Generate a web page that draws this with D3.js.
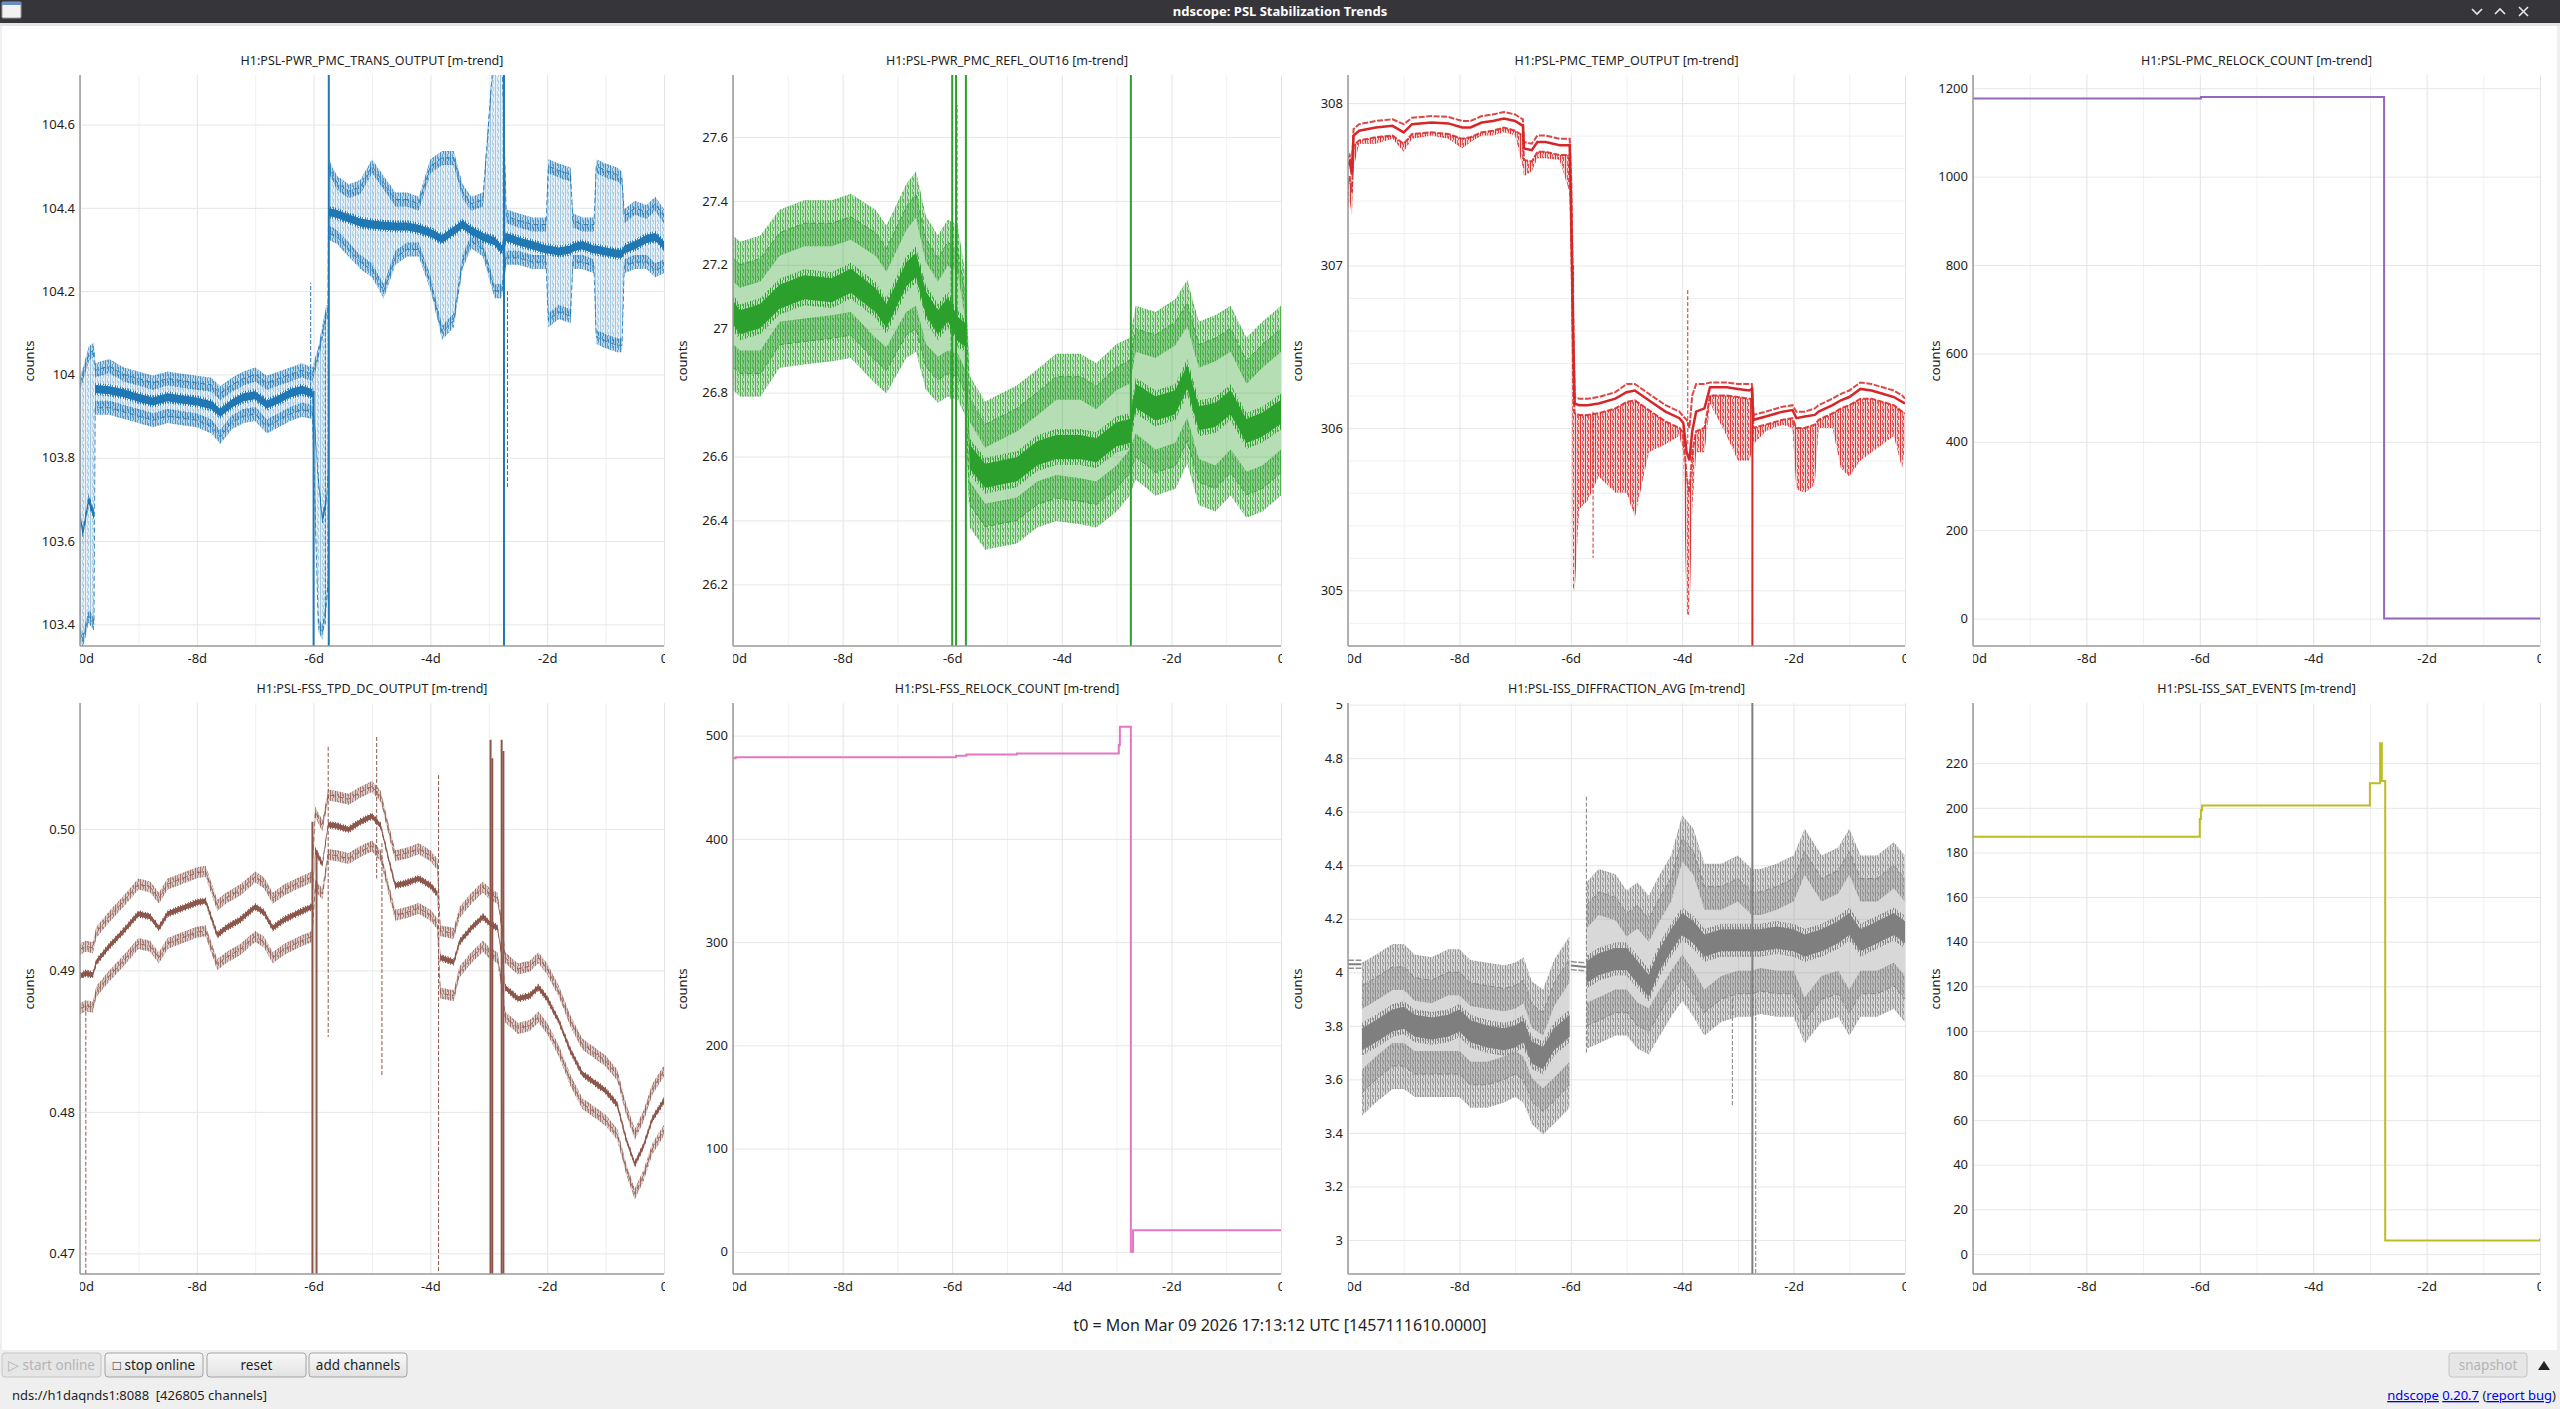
<!DOCTYPE html>
<html>
<head>
<meta charset="utf-8">
<script src="https://cdn.jsdelivr.net/npm/d3@7"></script>
<style>
  body { margin: 0; background: #efefef; font-family: "Noto Sans", sans-serif; }
  svg { display: block; }
</style>
</head>
<body>
<script>
const W = 2560;
const H = 1409;

// ---- x axis (days before t0) ----
const xMajor = [-10, -8, -6, -4, -2, 0];
const xMajorLabels = ["-10d", "-8d", "-6d", "-4d", "-2d", "0"];
const xMinor = [-9, -7, -5, -3, -1];

// ---- PWR_PMC_TRANS_OUTPUT ----
const p1Domain = [103.348, 104.719];
const p1Ticks = [103.4, 103.6, 103.8, 104, 104.2, 104.4, 104.6];
const p1T = [-10, -9.95, -9.85, -9.76, -9.74, -9.5, -9.25, -9.0, -8.75, -8.5, -8.25, -8.0, -7.75, -7.6, -7.4, -7.2, -7.0, -6.8, -6.6, -6.4, -6.2, -6.02, -5.92, -5.85, -5.78, -5.755, -5.74, -5.6, -5.4, -5.2, -5.0, -4.8, -4.6, -4.4, -4.2, -4.0, -3.8, -3.6, -3.45, -3.3, -3.1, -2.9, -2.78, -2.7, -2.5, -2.25, -2.02, -1.98, -1.8, -1.6, -1.56, -1.4, -1.2, -1.16, -1.0, -0.8, -0.72, -0.68, -0.5, -0.3, -0.15, 0];
const p1Mean = [103.66, 103.62, 103.70, 103.66, 103.965, 103.962, 103.955, 103.944, 103.935, 103.945, 103.94, 103.935, 103.926, 103.908, 103.93, 103.945, 103.95, 103.928, 103.94, 103.955, 103.963, 103.955, 103.75, 103.65, 103.7, 103.76, 104.39, 104.385, 104.375, 104.365, 104.36, 104.357, 104.355, 104.355, 104.35, 104.34, 104.325, 104.345, 104.36, 104.345, 104.33, 104.32, 104.3, 104.33, 104.32, 104.31, 104.30, 104.30, 104.295, 104.30, 104.305, 104.31, 104.30, 104.30, 104.295, 104.29, 104.29, 104.30, 104.31, 104.325, 104.33, 104.31];
const p1Max = [103.98, 104.0, 104.05, 104.06, 104.01, 104.02, 104.0, 103.99, 103.98, 103.99, 103.985, 103.98, 103.975, 103.955, 103.975, 103.99, 104.0, 103.98, 103.99, 104.0, 104.01, 104.0, 104.05, 104.1, 104.15, 104.15, 104.5, 104.46, 104.44, 104.45, 104.5, 104.46, 104.42, 104.42, 104.41, 104.5, 104.52, 104.52, 104.44, 104.41, 104.42, 104.8, 104.8, 104.38, 104.37, 104.36, 104.36, 104.5, 104.49, 104.48, 104.37, 104.36, 104.36, 104.5, 104.49, 104.48, 104.47, 104.38, 104.4, 104.39, 104.41, 104.38];
const p1Min = [103.38, 103.36, 103.42, 103.4, 103.92, 103.92, 103.91, 103.9, 103.89, 103.9, 103.895, 103.89, 103.875, 103.85, 103.885, 103.9, 103.905, 103.875, 103.89, 103.905, 103.915, 103.91, 103.4, 103.38, 103.45, 103.5, 104.34, 104.33, 104.3, 104.27, 104.25, 104.2, 104.28, 104.3, 104.3, 104.22, 104.1, 104.13, 104.27, 104.32, 104.3, 104.2, 104.2, 104.28, 104.28, 104.27, 104.27, 104.13, 104.15, 104.14, 104.27, 104.27, 104.26, 104.09, 104.08, 104.07, 104.07, 104.26, 104.27, 104.27, 104.25, 104.26];
const p1Drops = [[-6.0, 103.96, 103.0], [-5.74, 104.8, 103.0], [-2.74, 104.8, 103.0]];
const p1Spikes = [[-6.05, 103.9, 104.22], [-5.8, 103.4, 104.15], [-2.68, 104.2, 103.73]];

// ---- PWR_PMC_REFL_OUT16 ----
const p2Domain = [26.007, 27.794];
const p2Ticks = [26.2, 26.4, 26.6, 26.8, 27, 27.2, 27.4, 27.6];
const p2T = [-10, -9.87, -9.5, -9.15, -8.7, -8.2, -7.85, -7.4, -7.2, -6.84, -6.66, -6.48, -6.26, -6.08, -5.9, -5.76, -5.68, -5.4, -4.82, -4.45, -4.1, -3.66, -3.37, -3.0, -2.76, -2.65, -2.29, -1.93, -1.71, -1.5, -1.2, -0.92, -0.63, -0.34, 0];
const p2Mean = [27.05, 27.02, 27.04, 27.1, 27.13, 27.12, 27.15, 27.09, 27.04, 27.17, 27.2, 27.08, 27.02, 27.06, 27.0, 26.98, 26.6, 26.54, 26.56, 26.61, 26.63, 26.63, 26.62, 26.67, 26.68, 26.79, 26.75, 26.77, 26.85, 26.72, 26.73, 26.77, 26.68, 26.7, 26.74];
const p2Max = [27.22, 27.2, 27.22, 27.3, 27.33, 27.33, 27.35, 27.3, 27.25, 27.38, 27.42, 27.28, 27.22, 27.27, 27.25, 27.1, 26.78, 26.7, 26.75, 26.8, 26.85, 26.85, 26.82, 26.88, 26.9, 27.0, 26.98, 27.02, 27.08, 26.95, 26.97, 27.0, 26.9, 26.95, 27.0];
const p2Min = [26.88, 26.86, 26.86, 26.95, 26.96, 26.97, 26.98, 26.9, 26.87, 26.98, 27.0, 26.88, 26.84, 26.86, 26.85, 26.8, 26.45, 26.38, 26.4, 26.45, 26.47, 26.46, 26.45, 26.5, 26.55, 26.6, 26.55, 26.57, 26.65, 26.52, 26.5, 26.55, 26.48, 26.5, 26.55];
const p2Drops = [[-6.0, 27.8, 26.0], [-5.93, 27.8, 26.0], [-5.75, 27.8, 26.0], [-2.74, 27.8, 26.0]];
const p2Spikes = [[-5.91, 27.0, 27.7], [-6.02, 27.2, 26.78]];

// ---- PMC_TEMP_OUTPUT ----
const p3Domain = [304.657, 308.173];
const p3Ticks = [305, 306, 307, 308];
const p3Minor = [304.8, 305.2, 305.4, 305.6, 305.8, 306.2, 306.4, 306.6, 306.8, 307.2, 307.4, 307.6, 307.8, 308.0];
const p3T = [-10, -9.97, -9.93, -9.9, -9.8, -9.5, -9.2, -9.0, -8.85, -8.5, -8.2, -7.95, -7.8, -7.6, -7.4, -7.2, -7.0, -6.86, -6.84, -6.7, -6.6, -6.45, -6.2, -6.02, -5.99, -5.96, -5.93, -5.85, -5.7, -5.5, -5.2, -5.0, -4.85, -4.6, -4.3, -4.05, -3.98, -3.92, -3.87, -3.82, -3.75, -3.6, -3.5, -3.2, -3.0, -2.8, -2.75, -2.72, -2.5, -2.2, -2.02, -1.95, -1.8, -1.62, -1.55, -1.3, -1.15, -1.0, -0.8, -0.6, -0.4, -0.2, -0.05, 0];
const p3Mean = [307.62, 307.64, 307.56, 307.80, 307.83, 307.85, 307.86, 307.82, 307.87, 307.88, 307.875, 307.85, 307.85, 307.88, 307.89, 307.905, 307.89, 307.86, 307.72, 307.71, 307.76, 307.76, 307.74, 307.74, 307.3, 306.6, 306.15, 306.14, 306.14, 306.15, 306.18, 306.22, 306.23, 306.17, 306.1, 306.06, 306.03, 305.85, 305.8, 305.98, 306.1, 306.12, 306.25, 306.25, 306.24, 306.23, 306.24, 306.05, 306.07, 306.1, 306.11, 306.06, 306.07, 306.08, 306.1, 306.14, 306.17, 306.19, 306.24, 306.23, 306.21, 306.19, 306.16, 306.15];
const p3Max = [307.66, 307.68, 307.62, 307.84, 307.87, 307.89, 307.9, 307.87, 307.91, 307.92, 307.915, 307.89, 307.89, 307.92, 307.93, 307.945, 307.93, 307.9, 307.76, 307.75, 307.8, 307.8, 307.78, 307.78, 307.5, 306.8, 306.19, 306.18, 306.18, 306.19, 306.22, 306.27, 306.27, 306.21, 306.14, 306.1, 306.07, 306.05, 306.0, 306.2, 306.27, 306.27, 306.28, 306.28, 306.27, 306.27, 306.27, 306.08, 306.1, 306.13, 306.14, 306.1, 306.1, 306.12, 306.14, 306.18, 306.21, 306.23, 306.28, 306.27, 306.25, 306.23, 306.2, 306.18];
const p3Min = [307.5, 307.55, 307.45, 307.74, 307.77, 307.79, 307.8, 307.75, 307.81, 307.82, 307.81, 307.78, 307.79, 307.82, 307.83, 307.85, 307.83, 307.8, 307.65, 307.64, 307.7, 307.7, 307.68, 307.68, 307.1, 306.4, 306.09, 306.08, 306.08, 306.09, 306.12, 306.16, 306.17, 306.11, 306.04, 306.0, 305.97, 305.7, 305.6, 305.85, 305.98, 306.0, 306.2, 306.2, 306.19, 306.18, 306.18, 306.0, 306.02, 306.05, 306.06, 306.0, 306.0, 306.02, 306.05, 306.09, 306.12, 306.14, 306.18, 306.18, 306.16, 306.14, 306.1, 306.09];
const p3Dip = [307.35, 307.4, 307.3, 307.6, 307.75, 307.75, 307.78, 307.7, 307.78, 307.8, 307.78, 307.72, 307.76, 307.8, 307.8, 307.82, 307.8, 307.6, 307.55, 307.58, 307.66, 307.66, 307.65, 307.45, 307.0, 305.0, 305.0, 305.5, 305.55, 305.7, 305.6, 305.6, 305.45, 305.85, 305.9, 305.95, 305.85, 304.85, 304.85, 305.5, 305.85, 305.85, 306.15, 305.95, 305.8, 305.8, 305.85, 305.9, 305.98, 306.02, 306.0, 305.62, 305.6, 305.65, 306.0, 306.0, 305.75, 305.7, 305.8, 305.85, 305.9, 305.95, 305.75, 305.9];
const p3Drops = [[-2.74, 306.25, 304.0]];
const p3Spikes = [[-3.9, 305.9, 306.86], [-5.95, 306.2, 307.0], [-5.6, 306.1, 305.2]];

// ---- PMC_RELOCK_COUNT ----
const p4Domain = [-62, 1230];
const p4Ticks = [0, 200, 400, 600, 800, 1000, 1200];
const p4T = [-10, -5.98, -2.75, 0];
const p4Val = [1177, 1180, 0, 0];

// ---- FSS_TPD_DC_OUTPUT ----
const p5Domain = [0.46854, 0.5089];
const p5Ticks = [0.47, 0.48, 0.49, 0.50];
const p5T = [-10, -9.9, -9.78, -9.72, -9.5, -9.25, -9.0, -8.8, -8.65, -8.5, -8.25, -8.0, -7.85, -7.65, -7.5, -7.25, -7.0, -6.85, -6.7, -6.5, -6.25, -6.03, -5.97, -5.85, -5.75, -5.6, -5.4, -5.2, -5.0, -4.85, -4.7, -4.6, -4.4, -4.2, -4.0, -3.88, -3.83, -3.6, -3.5, -3.3, -3.1, -2.98, -2.85, -2.76, -2.72, -2.5, -2.3, -2.15, -2.0, -1.8, -1.6, -1.4, -1.2, -1.0, -0.8, -0.65, -0.5, -0.35, -0.2, 0];
const p5Mean = [0.4896, 0.4898, 0.4897, 0.4906, 0.4917, 0.4928, 0.4940, 0.4938, 0.4930, 0.4940, 0.4944, 0.4948, 0.4949, 0.4925, 0.4930, 0.4936, 0.4945, 0.4941, 0.4930, 0.4936, 0.4941, 0.4945, 0.4985, 0.4975, 0.5003, 0.5002, 0.49995, 0.5005, 0.5009, 0.5002, 0.4976, 0.4960, 0.4962, 0.4965, 0.4960, 0.4954, 0.4909, 0.4906, 0.4920, 0.4930, 0.4938, 0.4933, 0.4930, 0.4906, 0.4888, 0.4880, 0.4882, 0.4888, 0.4880, 0.4864, 0.4843, 0.4827, 0.4821, 0.4815, 0.4805, 0.4781, 0.4763, 0.4776, 0.4795, 0.4808];
const p5Max = [0.4915, 0.4917, 0.4916, 0.4927, 0.4938, 0.4949, 0.4961, 0.4959, 0.4951, 0.4961, 0.4965, 0.4969, 0.4970, 0.4946, 0.4951, 0.4957, 0.4966, 0.4962, 0.4951, 0.4957, 0.4962, 0.4966, 0.5012, 0.5002, 0.5024, 0.5023, 0.5021, 0.5026, 0.5030, 0.5023, 0.4997, 0.4981, 0.4983, 0.4986, 0.4981, 0.4975, 0.4928, 0.4926, 0.4941, 0.4951, 0.4959, 0.4954, 0.4951, 0.4927, 0.4909, 0.4901, 0.4903, 0.4909, 0.4901, 0.4885, 0.4864, 0.4848, 0.4842, 0.4836, 0.4826, 0.4802, 0.4784, 0.4797, 0.4816, 0.4829];
const p5Min = [0.4873, 0.4875, 0.4874, 0.4885, 0.4896, 0.4907, 0.4919, 0.4917, 0.4909, 0.4919, 0.4923, 0.4927, 0.4928, 0.4904, 0.4909, 0.4915, 0.4924, 0.4920, 0.4909, 0.4915, 0.4920, 0.4924, 0.4960, 0.4954, 0.4982, 0.4981, 0.4979, 0.4984, 0.4988, 0.4981, 0.4955, 0.4939, 0.4941, 0.4944, 0.4939, 0.4933, 0.4884, 0.4882, 0.4899, 0.4909, 0.4917, 0.4912, 0.4909, 0.4885, 0.4867, 0.4859, 0.4861, 0.4867, 0.4859, 0.4843, 0.4822, 0.4806, 0.4800, 0.4794, 0.4784, 0.4760, 0.4742, 0.4755, 0.4774, 0.4787];
const p5Drops = [[-6.02, 0.5005, 0.46], [-5.95, 0.4985, 0.46], [-2.97, 0.5063, 0.46], [-2.94, 0.505, 0.46], [-2.78, 0.5063, 0.46], [-2.75, 0.5055, 0.46]];
const p5Spikes = [[-9.9, 0.4875, 0.46], [-5.75, 0.5058, 0.4853], [-4.92, 0.5065, 0.4965], [-4.83, 0.499, 0.4825], [-3.86, 0.5038, 0.46]];

// ---- FSS_RELOCK_COUNT ----
const p6Domain = [-21.5, 531.6];
const p6Ticks = [0, 100, 200, 300, 400, 500];
const p6T = [-10, -9.95, -5.93, -5.74, -4.82, -2.96, -2.94, -2.74, -2.7, 0];
const p6Val = [478, 479, 480.5, 481.7, 482.8, 491, 508.5, 0, 21, 21];

// ---- ISS_DIFFRACTION_AVG ----
const p7Domain = [2.873, 5.006];
const p7Ticks = [3, 3.2, 3.4, 3.6, 3.8, 4, 4.2, 4.4, 4.6, 4.8, 5];
const p7T = [-9.75, -9.5, -9.2, -9.0, -8.8, -8.5, -8.2, -8.0, -7.8, -7.5, -7.2, -7.0, -6.85, -6.7, -6.5, -6.3, -6.02, -6.01, -5.72, -5.5, -5.2, -5.0, -4.8, -4.6, -4.4, -4.2, -4.0, -3.8, -3.6, -3.3, -3.0, -2.75, -2.6, -2.3, -2.0, -1.8, -1.5, -1.2, -1.0, -0.8, -0.5, -0.2, 0];
const p7Mean = [3.75, 3.78, 3.82, 3.83, 3.80, 3.79, 3.80, 3.82, 3.78, 3.76, 3.75, 3.76, 3.78, 3.70, 3.68, 3.75, 3.80, null, 4.0, 4.03, 4.05, 4.05, 4.0, 3.95, 4.05, 4.12, 4.18, 4.15, 4.1, 4.12, 4.12, 4.12, 4.12, 4.13, 4.12, 4.1, 4.12, 4.15, 4.18, 4.12, 4.15, 4.18, 4.15];
const p7Max = [3.95, 3.98, 4.02, 4.02, 3.98, 3.97, 4.0, 4.0, 3.96, 3.95, 3.94, 3.95, 3.97, 3.88, 3.85, 3.96, 4.05, null, 4.25, 4.3, 4.28, 4.22, 4.25, 4.2, 4.28, 4.35, 4.5, 4.45, 4.32, 4.32, 4.35, 4.3, 4.3, 4.32, 4.35, 4.45, 4.35, 4.38, 4.45, 4.35, 4.35, 4.4, 4.35];
const p7Min = [3.55, 3.6, 3.65, 3.65, 3.62, 3.62, 3.62, 3.62, 3.58, 3.58, 3.6, 3.62, 3.6, 3.52, 3.48, 3.52, 3.58, null, 3.8, 3.82, 3.85, 3.85, 3.8, 3.78, 3.85, 3.92, 3.98, 3.92, 3.85, 3.9, 3.92, 3.92, 3.93, 3.92, 3.92, 3.82, 3.9, 3.92, 3.85, 3.92, 3.92, 3.95, 3.9];
const p7QuietT = [-10, -9.76, -9.755, -6.0, -5.73];
const p7QuietMean = [4.03, 4.03, null, 4.025, 4.02];
const p7QuietMax = [4.045, 4.045, null, 4.04, 4.035];
const p7QuietMin = [4.015, 4.015, null, 4.01, 4.005];
const p7Drops = [[-2.74, 5.1, 2.8]];
const p7Spikes = [[-2.68, 3.9, 2.8], [-5.72, 3.7, 4.66], [-3.1, 3.9, 3.5]];

// ---- ISS_SAT_EVENTS ----
const p8Domain = [-9, 247];
const p8Ticks = [0, 20, 40, 60, 80, 100, 120, 140, 160, 180, 200, 220];
const p8T = [-10, -6.0, -5.98, -5.96, -3.0, -2.82, -2.79, -2.73, 0];
const p8Val = [187, 195, 199, 201, 211, 229, 212, 6, 7];

// ---- layout ----
const colX0 = [80, 733, 1348, 1973];
const colX1 = [664, 1281, 1905, 2540];
const rowY0 = [75, 703];
const rowY1 = [646, 1274];
const countsX = [29, 682, 1297, 1935];
const countsY = [361, 989];

const panels = [
  { title: "H1:PSL-PWR_PMC_TRANS_OUTPUT [m-trend]", col: 0, row: 0, color: "#1f77b4", domain: p1Domain, ticks: p1Ticks,
    t: p1T, mean: p1Mean, hi: p1Max, lo: p1Min, drops: p1Drops, spikes: p1Spikes, edgeW: 14, meanW: 8, band: 0.1, bandHatch: true },
  { title: "H1:PSL-PWR_PMC_REFL_OUT16 [m-trend]", col: 1, row: 0, color: "#2ca02c", domain: p2Domain, ticks: p2Ticks,
    t: p2T, mean: p2Mean, hi: p2Max, lo: p2Min, drops: p2Drops, spikes: p2Spikes, edgeW: 46, meanW: 24, band: 0.35 },
  { title: "H1:PSL-PMC_TEMP_OUTPUT [m-trend]", col: 2, row: 0, color: "#d62728", domain: p3Domain, ticks: p3Ticks, minor: p3Minor,
    t: p3T, mean: p3Mean, hi: p3Max, lo: p3Min, dip: p3Dip, drops: p3Drops, spikes: p3Spikes, edgeW: 2, meanW: 2.5, band: 0 },
  { title: "H1:PSL-PMC_RELOCK_COUNT [m-trend]", col: 3, row: 0, color: "#9467bd", domain: p4Domain, ticks: p4Ticks,
    t: p4T, step: p4Val },
  { title: "H1:PSL-FSS_TPD_DC_OUTPUT [m-trend]", col: 0, row: 1, color: "#8c564b", domain: p5Domain, ticks: p5Ticks,
    fmt: d => d.toFixed(2),
    t: p5T, mean: p5Mean, hi: p5Max, lo: p5Min, drops: p5Drops, spikes: p5Spikes, edgeW: 11, meanW: 5, band: 0 },
  { title: "H1:PSL-FSS_RELOCK_COUNT [m-trend]", col: 1, row: 1, color: "#e377c2", domain: p6Domain, ticks: p6Ticks,
    t: p6T, step: p6Val },
  { title: "H1:PSL-ISS_DIFFRACTION_AVG [m-trend]", col: 2, row: 1, color: "#7f7f7f", domain: p7Domain, ticks: p7Ticks,
    t: p7T, mean: p7Mean, hi: p7Max, lo: p7Min, drops: p7Drops, spikes: p7Spikes, edgeW: 46, meanW: 22, band: 0.3,
    quiet: { t: p7QuietT, mean: p7QuietMean, hi: p7QuietMax, lo: p7QuietMin } },
  { title: "H1:PSL-ISS_SAT_EVENTS [m-trend]", col: 3, row: 1, color: "#bcbd22", domain: p8Domain, ticks: p8Ticks,
    t: p8T, step: p8Val }
];

const svg = d3.select("body").append("svg").attr("width", W).attr("height", H)
  .style("font-family", "'Noto Sans', sans-serif");
const defs = svg.append("defs");

// ---- window chrome ----
svg.append("rect").attr("width", W).attr("height", H).attr("fill", "#efefef");
svg.append("rect").attr("width", W).attr("height", 23).attr("fill", "#36363a");
svg.append("rect").attr("x", 2).attr("y", 2).attr("width", 19).attr("height", 16).attr("rx", 1)
  .attr("fill", "#f2f2f2").attr("stroke", "#9a9a9a");
svg.append("rect").attr("x", 2).attr("y", 2).attr("width", 19).attr("height", 3).attr("fill", "#6c8ebf");
svg.append("text").attr("x", W / 2).attr("y", 16).attr("text-anchor", "middle")
  .attr("fill", "#ffffff").attr("font-size", 13).attr("font-weight", "bold")
  .text("ndscope: PSL Stabilization Trends");
const chrome = svg.append("g").attr("fill", "none").attr("stroke", "#e8e8e8").attr("stroke-width", 1.6);
chrome.append("path").attr("d", "M2472,9 L2477,14 L2482,9");
chrome.append("path").attr("d", "M2495,14 L2500,9 L2505,14");
chrome.append("path").attr("d", "M2519,7 L2528,16 M2528,7 L2519,16");
svg.append("rect").attr("x", 0).attr("y", 23).attr("width", W).attr("height", 3).attr("fill", "#e4e4e4");
svg.append("rect").attr("x", 2).attr("y", 26).attr("width", 2555).attr("height", 1324).attr("fill", "#ffffff");

// ---- panels ----
panels.forEach((p, k) => {
  const x0 = colX0[p.col], x1 = colX1[p.col];
  const y0 = rowY0[p.row], y1 = rowY1[p.row];
  const x = d3.scaleLinear().domain([-10, 0]).range([x0, x1]);
  const y = d3.scaleLinear().domain(p.domain).range([y1, y0]);
  const fmt = p.fmt || (d => String(+d.toFixed(2)));
  const g = svg.append("g");

  defs.append("clipPath").attr("id", "plot" + k).append("rect")
    .attr("x", x0).attr("y", y0).attr("width", x1 - x0).attr("height", y1 - y0);
  defs.append("clipPath").attr("id", "xl" + k).append("rect")
    .attr("x", x0).attr("y", y1).attr("width", x1 - x0 + 1).attr("height", 40);
  defs.append("clipPath").attr("id", "yl" + k).append("rect")
    .attr("x", x0 - 70).attr("y", y0).attr("width", 70).attr("height", y1 - y0 + 12);

  // vertical hatch that stands in for the dense min/max strokes
  const pat = defs.append("pattern").attr("id", "hatch" + k).attr("patternUnits", "userSpaceOnUse")
    .attr("width", 5).attr("height", 7);
  pat.append("rect").attr("x", 0).attr("y", 0).attr("width", 1).attr("height", 7).attr("fill", p.color);
  pat.append("rect").attr("x", 2).attr("y", 0).attr("width", 1).attr("height", 5).attr("fill", p.color).attr("opacity", 0.7);
  pat.append("rect").attr("x", 3).attr("y", 3).attr("width", 1).attr("height", 4).attr("fill", p.color).attr("opacity", 0.85);

  // grid
  g.append("g").attr("transform", `translate(0,${y1})`)
    .call(d3.axisBottom(x).tickValues(xMinor).tickSize(-(y1 - y0)).tickFormat(""))
    .call(a => a.select(".domain").remove())
    .call(a => a.selectAll("line").attr("stroke", "#f0f0f0"));
  g.append("g").attr("transform", `translate(0,${y1})`)
    .call(d3.axisBottom(x).tickValues(xMajor).tickSize(-(y1 - y0)).tickFormat(""))
    .call(a => a.select(".domain").remove())
    .call(a => a.selectAll("line").attr("stroke", "#e3e3e3"));
  if (p.minor) {
    g.append("g").attr("transform", `translate(${x0},0)`)
      .call(d3.axisLeft(y).tickValues(p.minor).tickSize(-(x1 - x0)).tickFormat(""))
      .call(a => a.select(".domain").remove())
      .call(a => a.selectAll("line").attr("stroke", "#f0f0f0"));
  }
  g.append("g").attr("transform", `translate(${x0},0)`)
    .call(d3.axisLeft(y).tickValues(p.ticks).tickSize(-(x1 - x0)).tickFormat(""))
    .call(a => a.select(".domain").remove())
    .call(a => a.selectAll("line").attr("stroke", "#e6e6e6"));

  // data
  const plot = g.append("g").attr("clip-path", `url(#plot${k})`);
  const line = d3.line().defined(d => d.v != null).x(d => x(d.t)).y(d => y(d.v));
  const area = d3.area().defined(d => d.a != null).x(d => x(d.t)).y0(d => y(d.a)).y1(d => y(d.b));
  const ribbon = w => d3.area().defined(d => d.v != null).x(d => x(d.t))
    .y0(d => y(d.v) + w / 2).y1(d => y(d.v) - w / 2);

  if (p.step) {
    const pts = p.t.map((t, i) => ({ t: t, v: p.step[i] }));
    plot.append("path").datum(pts)
      .attr("d", line.curve(d3.curveStepAfter))
      .attr("fill", "none").attr("stroke", p.color).attr("stroke-width", 2);
  } else {
    const trace = (src, band, bandHatch) => {
      const lo = src.t.map((t, i) => ({ t: t, v: src.lo[i] }));
      const hi = src.t.map((t, i) => ({ t: t, v: src.hi[i] }));
      const mean = src.t.map((t, i) => ({ t: t, v: src.mean[i] }));
      const span = src.t.map((t, i) => ({ t: t, a: src.lo[i], b: src.hi[i] }));
      const noisy = src.edgeW > 3;
      if (band > 0) {
        plot.append("path").datum(span).attr("d", area)
          .attr("fill", p.color).attr("fill-opacity", band);
        if (bandHatch) {
          plot.append("path").datum(span).attr("d", area)
            .attr("fill", `url(#hatch${k})`).attr("fill-opacity", 0.35);
        }
      }
      if (src.dip) {
        const dip = src.t.map((t, i) => ({ t: t, a: src.dip[i], b: src.lo[i] }));
        plot.append("path").datum(dip).attr("d", area)
          .attr("fill", p.color).attr("fill-opacity", 0.22);
        plot.append("path").datum(dip).attr("d", area)
          .attr("fill", `url(#hatch${k})`).attr("fill-opacity", 0.9);
      }
      if (noisy) {
        [lo, hi].forEach(s => {
          plot.append("path").datum(s).attr("d", ribbon(src.edgeW))
            .attr("fill", p.color).attr("fill-opacity", 0.3);
          plot.append("path").datum(s).attr("d", ribbon(src.edgeW))
            .attr("fill", `url(#hatch${k})`).attr("fill-opacity", 0.75);
          plot.append("path").datum(s).attr("d", line)
            .attr("fill", "none").attr("stroke", p.color).attr("stroke-width", 1)
            .attr("stroke-opacity", 0.8).attr("stroke-dasharray", "5,3");
        });
        plot.append("path").datum(mean).attr("d", ribbon(src.meanW * 1.5))
          .attr("fill", `url(#hatch${k})`);
        plot.append("path").datum(mean).attr("d", ribbon(src.meanW))
          .attr("fill", p.color);
      } else {
        [lo, hi].forEach(s => {
          plot.append("path").datum(s).attr("d", line)
            .attr("fill", "none").attr("stroke", p.color).attr("stroke-width", src.edgeW)
            .attr("stroke-opacity", 0.85).attr("stroke-dasharray", "6,1.5");
        });
        plot.append("path").datum(mean).attr("d", line)
          .attr("fill", "none").attr("stroke", p.color).attr("stroke-width", src.meanW);
      }
    };
    trace({ t: p.t, mean: p.mean, hi: p.hi, lo: p.lo, dip: p.dip, edgeW: p.edgeW, meanW: p.meanW }, p.band, p.bandHatch);
    if (p.quiet) {
      trace({ t: p.quiet.t, mean: p.quiet.mean, hi: p.quiet.hi, lo: p.quiet.lo, edgeW: 1.5, meanW: 2 }, 0, false);
    }
    plot.selectAll(".drop").data(p.drops).enter().append("line")
      .attr("x1", d => x(d[0])).attr("x2", d => x(d[0]))
      .attr("y1", d => y(d[1])).attr("y2", d => y(d[2]))
      .attr("stroke", p.color).attr("stroke-width", 2);
    plot.selectAll(".spike").data(p.spikes).enter().append("line")
      .attr("x1", d => x(d[0])).attr("x2", d => x(d[0]))
      .attr("y1", d => y(d[1])).attr("y2", d => y(d[2]))
      .attr("stroke", p.color).attr("stroke-width", 1).attr("stroke-dasharray", "4,2");
  }

  // axes
  g.append("line").attr("x1", x0).attr("x2", x0).attr("y1", y0).attr("y2", y1)
    .attr("stroke", "#9a9a9a").attr("stroke-width", 1.5);
  g.append("line").attr("x1", x0).attr("x2", x1).attr("y1", y1).attr("y2", y1)
    .attr("stroke", "#9a9a9a").attr("stroke-width", 1.5);

  g.append("g").attr("clip-path", `url(#yl${k})`).append("g")
    .attr("transform", `translate(${x0},0)`)
    .call(d3.axisLeft(y).tickValues(p.ticks).tickSize(0).tickPadding(5).tickFormat(fmt))
    .call(a => a.select(".domain").remove())
    .call(a => a.selectAll("text").attr("fill", "#1e1e1e").attr("font-size", 13)
      .attr("font-family", "'Noto Sans', sans-serif"));

  g.append("g").attr("clip-path", `url(#xl${k})`).append("g")
    .attr("transform", `translate(0,${y1})`)
    .call(d3.axisBottom(x).tickValues(xMajor).tickSize(0).tickPadding(8)
      .tickFormat((d, i) => xMajorLabels[i]))
    .call(a => a.select(".domain").remove())
    .call(a => a.selectAll("text").attr("fill", "#1e1e1e").attr("font-size", 13)
      .attr("font-family", "'Noto Sans', sans-serif"));

  g.append("text").attr("x", (x0 + x1) / 2).attr("y", y0 - 10).attr("text-anchor", "middle")
    .attr("font-size", 12.5).attr("fill", "#1e1e1e").text(p.title);

  g.append("text").attr("transform", `translate(${countsX[p.col]},${countsY[p.row]}) rotate(-90)`)
    .attr("text-anchor", "middle").attr("dy", "0.35em")
    .attr("font-size", 13).attr("fill", "#1e1e1e").text("counts");
});

// ---- footer ----
svg.append("text").attr("x", 1280).attr("y", 1331).attr("text-anchor", "middle")
  .attr("font-size", 16).attr("fill", "#1e1e1e")
  .text("t0 = Mon Mar 09 2026 17:13:12 UTC [1457111610.0000]");

const gradient = defs.append("linearGradient").attr("id", "btn").attr("x1", 0).attr("x2", 0).attr("y1", 0).attr("y2", 1);
gradient.append("stop").attr("offset", "0%").attr("stop-color", "#f8f8f8");
gradient.append("stop").attr("offset", "100%").attr("stop-color", "#e2e2e2");

const buttons = [
  { x: 2, w: 99, label: "\u25B7 start online", on: false },
  { x: 105, w: 98, label: "\u25A1 stop online", on: true },
  { x: 207, w: 99, label: "reset", on: true },
  { x: 309, w: 98, label: "add channels", on: true },
  { x: 2449, w: 78, label: "snapshot", on: false }
];
const btn = svg.selectAll(".btn").data(buttons).enter().append("g");
btn.append("rect").attr("x", d => d.x).attr("y", 1353).attr("width", d => d.w).attr("height", 24).attr("rx", 3)
  .attr("fill", d => d.on ? "url(#btn)" : "#e6e6e6").attr("stroke", d => d.on ? "#a4a4a4" : "#c4c4c4");
btn.append("text").attr("x", d => d.x + d.w / 2).attr("y", 1370).attr("text-anchor", "middle")
  .attr("font-size", 13.5).attr("fill", d => d.on ? "#1e1e1e" : "#b4b4b4").text(d => d.label);

svg.append("path").attr("d", "M2538,1370 L2544,1361 L2550,1370 Z").attr("fill", "#222");

svg.append("text").attr("x", 12).attr("y", 1400).attr("font-size", 13).attr("fill", "#1e1e1e")
  .attr("xml:space", "preserve").text("nds://h1daqnds1:8088  [426805 channels]");

const link = svg.append("text").attr("x", 2556).attr("y", 1400).attr("text-anchor", "end")
  .attr("font-size", 13).attr("fill", "#1e1e1e");
link.append("tspan").attr("fill", "#0000ee").attr("text-decoration", "underline").text("ndscope");
link.append("tspan").text(" ");
link.append("tspan").attr("fill", "#0000ee").attr("text-decoration", "underline").text("0.20.7");
link.append("tspan").text(" (");
link.append("tspan").attr("fill", "#0000ee").attr("text-decoration", "underline").text("report bug");
link.append("tspan").text(")");
</script>
</body>
</html>
